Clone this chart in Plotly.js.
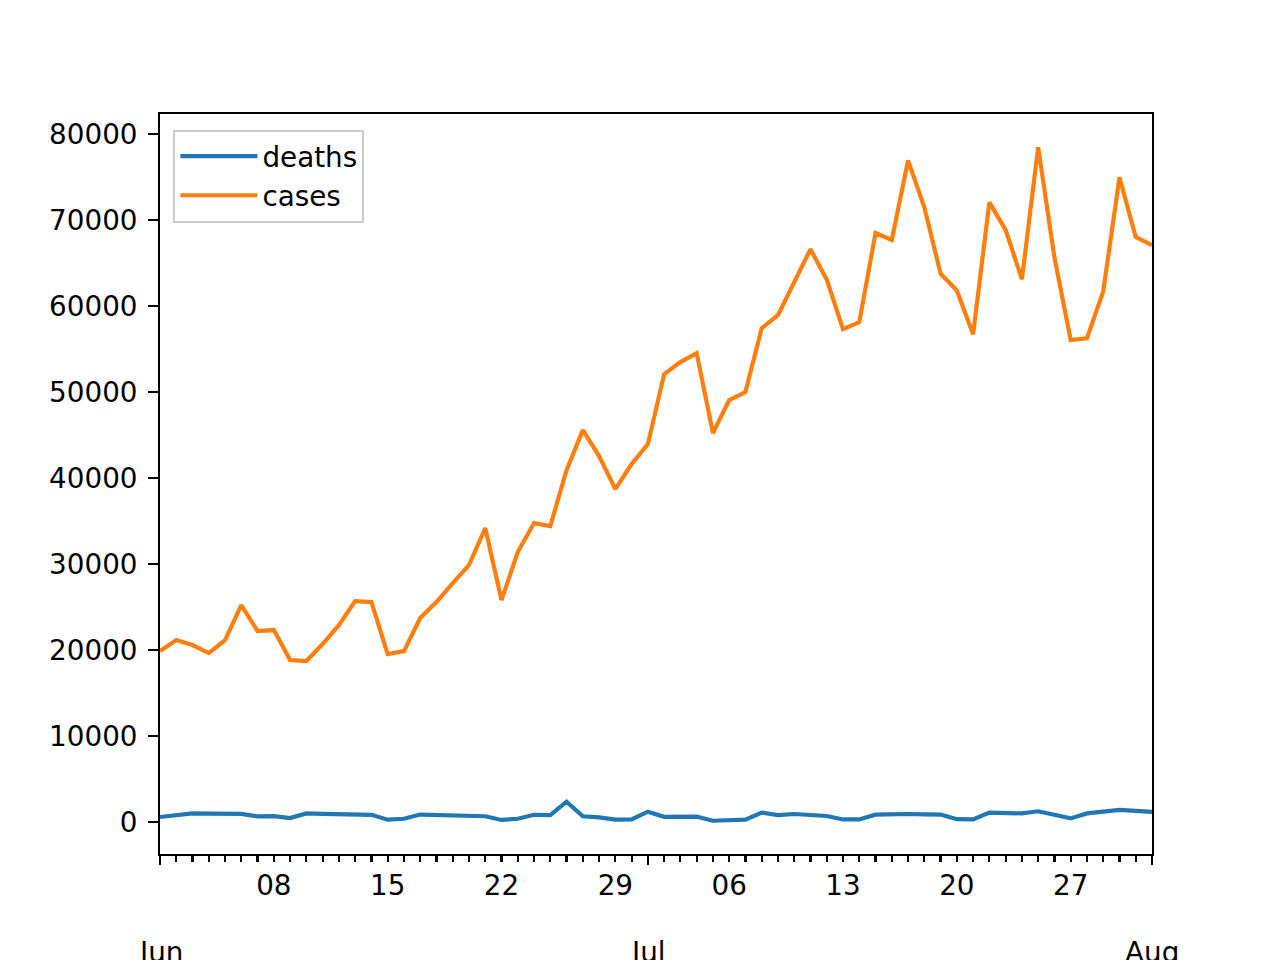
<!DOCTYPE html>
<html>
<head>
<meta charset="utf-8">
<script src="https://cdn.plot.ly/plotly-3.0.1.min.js"></script>
<style>html,body{margin:0;padding:0;background:#fff;}#chart{width:1280px;height:960px;}</style>
</head>
<body>
<div id="chart"></div>
<script>
// Dates: 2020-06-01 .. 2020-08-01 (daily)
const startDate = "2020-06-01";
const nDays = 62;
const deaths = [580, 770, 1000, 970, 1000, 940, 650, 690, 460, 1000,
  940, 940, 900, 840, 270, 380, 870, 800, 770, 740,
  670, 240, 380, 840, 800, 2360, 670, 530, 270, 310,
  1200, 600, 600, 620, 150, 180, 270, 1100, 800, 930,
  780, 700, 300, 300, 850, 930, 930, 900, 870, 330,
  300, 1100, 1070, 1000, 1250, 870, 420, 1000, 1150, 1400,
  1300, 1180];
const cases = [19900, 21160, 20580, 19650, 21160, 25230, 22200, 22330, 18840, 18720,
  20700, 22900, 25700, 25580, 19530, 19880, 23720, 25580, 27790, 29880,
  34190, 25810, 31400, 34770, 34420, 40930, 45580, 42560, 38720, 41630,
  43950, 52090, 53490, 54530, 45230, 49070, 50000, 57440, 58950, 62900,
  66630, 63080, 57330, 58150, 68510, 67690, 76940, 71490, 63780, 61820,
  56740, 72070, 68860, 63140, 78470, 65680, 56060, 56260, 61720, 74980,
  68040, 67090];
const weekTickDates = ["2020-06-08","2020-06-15","2020-06-22","2020-06-29","2020-07-06","2020-07-13","2020-07-20","2020-07-27"];
const weekTickLabels = ["08","15","22","29","06","13","20","27"];
const monthTickDates = ["2020-06-01","2020-07-01","2020-08-01"];
const monthTickLabels = ["Jun","Jul","Aug"];
const yTicks = [0,10000,20000,30000,40000,50000,60000,70000,80000];

const dates = [];
{
  const d0 = new Date(startDate + "T00:00:00Z");
  for (let i = 0; i < nDays; i++) {
    const d = new Date(d0.getTime() + i * 86400000);
    dates.push(d.toISOString().slice(0,10));
  }
}

const FONT = "DejaVu Sans, sans-serif";
const FS = 27.8;

const traces = [
  {x: dates, y: deaths, name: "deaths", type: "scatter", mode: "lines",
   line: {color: "#1f77b4", width: 4.2}},
  {x: dates, y: cases, name: "cases", type: "scatter", mode: "lines",
   line: {color: "#ff7f0e", width: 4.2}},
  // invisible helper trace for second x axis (month ticks)
  {x: [monthTickDates[0], monthTickDates[2]], y: [0,0], xaxis: "x2", yaxis: "y",
   mode: "none", showlegend: false, hoverinfo: "skip"}
];

const xRange = [dates[0], dates[dates.length-1]];

const annotations = monthTickDates.map((d, i) => ({
  x: d, xref: "x", y: -0.108, yref: "paper", yanchor: "top", xanchor: "center",
  text: monthTickLabels[i], showarrow: false,
  font: {family: FONT, size: FS, color: "#000"}
}));

const layout = {
  width: 1280, height: 960,
  paper_bgcolor: "#fff", plot_bgcolor: "#fff",
  margin: {l: 160, r: 128, t: 114, b: 106, pad: 0},
  showlegend: true,
  legend: {x: 0.0135, y: 0.979, xanchor: "left", yanchor: "top",
    bgcolor: "rgba(255,255,255,0.8)", bordercolor: "#cccccc", borderwidth: 2,
    font: {family: FONT, size: FS, color: "#000"}, tracegroupgap: 0,
    itemwidth: 77},
  xaxis: {
    type: "date", range: xRange,
    tickmode: "array", tickvals: weekTickDates, ticktext: weekTickLabels,
    ticks: "outside", ticklen: 5.6, tickwidth: 2.2, tickcolor: "#000",
    tickfont: {family: FONT, size: FS, color: "#000"},
    showgrid: false, zeroline: false,
    showline: true, linecolor: "#000", linewidth: 2.2, mirror: true,
    minor: {dtick: 86400000, tick0: "2020-06-01", ticks: "outside", ticklen: 5.6,
      tickwidth: 2.2, tickcolor: "#000", showgrid: false}
  },
  xaxis2: {
    type: "date", range: xRange, overlaying: "x", anchor: "y", side: "bottom",
    tickmode: "array", tickvals: monthTickDates, ticktext: ["","",""],
    ticks: "outside", ticklen: 9.7, tickwidth: 2.2, tickcolor: "#000",
    showgrid: false, zeroline: false, showline: false, showticklabels: false
  },
  yaxis: {
    range: [-3720, 82350],
    tickmode: "array", tickvals: yTicks, ticktext: yTicks.map(String),
    ticks: "outside", ticklen: 9.7, tickwidth: 2.2, tickcolor: "#000",
    tickfont: {family: FONT, size: FS, color: "#000"}, ticklabelstandoff: 5,
    showgrid: false, zeroline: false,
    showline: true, linecolor: "#000", linewidth: 2.2, mirror: true
  },
  annotations: annotations
};

Plotly.newPlot("chart", traces, layout, {staticPlot: true, displayModeBar: false});
</script>
</body>
</html>
